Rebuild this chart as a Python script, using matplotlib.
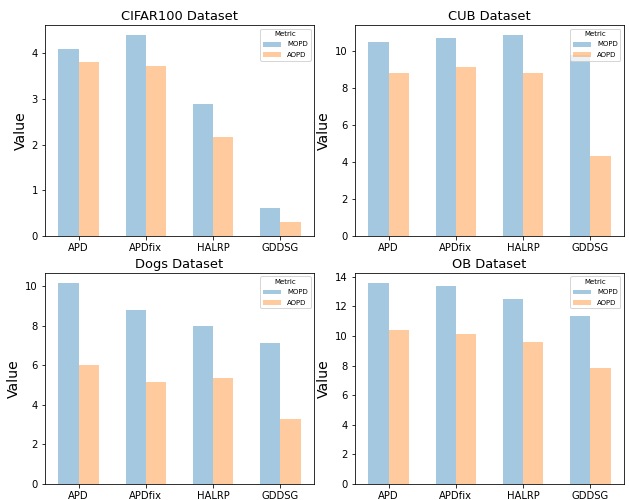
import numpy as np
import matplotlib
matplotlib.use('Agg')
import matplotlib.pyplot as plt

methods = ['APD', 'APDfix', 'HALRP', 'GDDSG']
datasets = ['CIFAR100', 'CUB', 'Dogs', 'OB']

# MOPD / AOPD per dataset
mopd = {
    'CIFAR100': [4.10, 4.40, 2.89, 0.61],
    'CUB': [10.49, 10.70, 10.88, 9.78],
    'Dogs': [10.15, 8.79, 7.98, 7.12],
    'OB': [13.57, 13.37, 12.49, 11.34],
}
aopd = {
    'CIFAR100': [3.81, 3.72, 2.17, 0.31],
    'CUB': [8.81, 9.14, 8.81, 4.32],
    'Dogs': [6.01, 5.15, 5.35, 3.28],
    'OB': [10.40, 10.13, 9.59, 7.83],
}

# drawn at 72 dpi so the default point sizes come out like the reference
fig, axes = plt.subplots(2, 2, figsize=(629 / 72, 500 / 72), dpi=72)
fig.subplots_adjust(left=0.0715, right=0.992, top=0.95, bottom=0.032,
                    wspace=0.152, hspace=0.175)

x = np.arange(len(methods))
w = 0.3
for ax, name in zip(axes.flat, datasets):
    ax.bar(x - w / 2, mopd[name], w, color='tab:blue', alpha=0.4, label='MOPD')
    ax.bar(x + w / 2, aopd[name], w, color='tab:orange', alpha=0.4, label='AOPD')
    ax.set_xticks(x)
    ax.set_xticklabels(methods, fontsize=10)
    ax.tick_params(axis='y', labelsize=10)
    ax.set_xlim(-0.5, 3.5)
    ax.set_title(name + ' Dataset', fontsize=13, pad=5)
    ax.set_ylabel('Value', fontsize=14)
    ax.legend(title='Metric', loc='upper right', fontsize=7, title_fontsize=7,
              handlelength=2.6, labelspacing=0.6)

plt.savefig('out.png', dpi=72)
